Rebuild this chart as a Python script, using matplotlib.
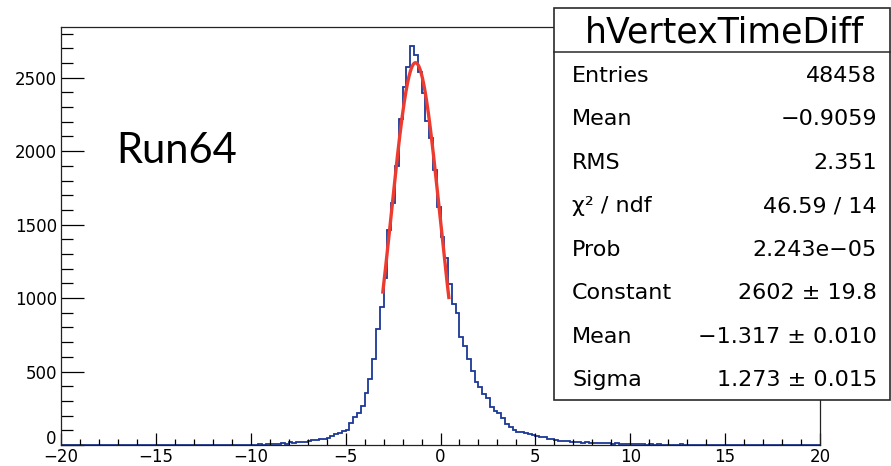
import numpy as np
import matplotlib
matplotlib.use("Agg")
import matplotlib.pyplot as plt
import matplotlib.transforms as mtransforms
from matplotlib.patches import Rectangle
from matplotlib.lines import Line2D
from matplotlib.ticker import MultipleLocator

# ---------------- data ----------------
x_min, x_max, n_bins = -20.0, 20.0, 200

counts_left_tail = [0, 0, 0, 0, 0, 0, 0, 0, 2,
                    0, 0, 0, 0, 0, 0, 0, 0, 0, 0, 0, 0, 0, 0, 0, 0, 0, 0,
                    1, 0, 2, 1,
                    0, 0, 0, 0, 0, 0,
                    1, 1, 0, 2, 2, 3, 2, 2, 0, 2, 3, 1, 3, 2, 3, 4, 3, 4, 5, 4]
counts_left_core = [5, 16, 6, 22, 16, 20, 22, 22, 30, 34, 34, 38, 42, 45, 61,
                    73, 79, 93, 100, 148, 193, 216, 266, 356, 447, 584, 788, 940,
                    1135, 1460, 1650, 1900, 2220, 2440, 2572, 2718, 2657, 2540,
                    2396, 2203, 2089, 1873, 1623]
counts_right_core = [1419, 1272, 1097, 960, 897, 738, 674, 584, 506, 431,
                     393, 347, 318, 261, 234, 220, 182, 143, 120, 102,
                     90, 86, 80, 78, 68, 62, 57, 52, 41, 38,
                     32, 29, 28, 25, 23, 22, 21, 16, 18, 16,
                     14, 17, 12, 11, 14, 10, 12, 8, 7, 9]
counts_right_tail = [5, 4, 5, 4, 3, 4, 3, 4, 3, 3,
                     3, 2, 3, 4, 2, 3, 2, 2, 3, 2,
                     2, 1, 1, 0, 0, 1, 1, 1, 0, 0,
                     0, 0, 0, 1, 1, 1, 1, 0, 0, 0,
                     0, 0, 0, 0, 0, 0, 0, 0, 0, 0]
counts = counts_left_tail + counts_left_core + counts_right_core + counts_right_tail

fit_constant = 2602.0
fit_mean = -1.317
fit_sigma = 1.273
fit_range = (-3.05, 0.45)

hist_title = "hVertexTimeDiff"
stats_labels = ["Entries", "Mean", "RMS", "\u03c7\u00b2 / ndf", "Prob",
                "Constant", "Mean", "Sigma"]
stats_values = ["48458", "\u22120.9059", "2.351", "46.59 / 14", "2.243e\u221205",
                "2602 \u00b1 19.8", "\u22121.317 \u00b1 0.010", "1.273 \u00b1 0.015"]
run_label = "Run64"

x_ticks = [-20, -15, -10, -5, 0, 5, 10, 15, 20]
y_ticks = [0, 500, 1000, 1500, 2000, 2500]

# ---------------- figure ----------------
W, H = 891, 466
fig = plt.figure(figsize=(W / 100, H / 100), dpi=100)
fig.patch.set_facecolor("white")

def fx(px):
    return px / W

def fy(py):
    return 1 - py / H

ax = fig.add_axes([fx(61), fy(445), (820 - 61) / W, (445 - 27) / H])

edges = np.linspace(x_min, x_max, n_bins + 1)
ax.stairs(counts, edges, color="#1b3896", lw=1.3, baseline=0)

xf = np.linspace(fit_range[0], fit_range[1], 200)
yf = fit_constant * np.exp(-0.5 * ((xf - fit_mean) / fit_sigma) ** 2)
ax.plot(xf, yf, color="#ee3b30", lw=2.4, solid_capstyle="butt")

ax.set_xlim(x_min, x_max)
ax.set_ylim(0, 2845)
ax.set_xticks(x_ticks)
ax.set_yticks(y_ticks)
ax.xaxis.set_minor_locator(MultipleLocator(1))
ax.yaxis.set_minor_locator(MultipleLocator(100))
ax.tick_params(axis="both", which="both", direction="in", top=False, right=False,
               color="black", width=0.9)
ax.tick_params(axis="y", which="major", length=16.5, pad=3, labelsize=12)
ax.tick_params(axis="y", which="minor", length=8.6)
ax.tick_params(axis="x", which="major", length=8.8, pad=2, labelsize=12)
ax.tick_params(axis="x", which="minor", length=4.5)
for s in ax.spines.values():
    s.set_color("#222222")
    s.set_linewidth(0.9)

# lift the y "0" label slightly so it sits just above the "-20" label
fig.canvas.draw()
ylabels = ax.get_yticklabels()
lift = mtransforms.ScaledTranslation(0, 6 / 100, fig.dpi_scale_trans)
ylabels[0].set_transform(ylabels[0].get_transform() + lift)
ylabels[0].set_va("center")

# Run label
fig.text(fx(116), fy(163), run_label, fontsize=30, family=["Lato", "DejaVu Sans"],
         ha="left", va="baseline", color="black")

# ---------------- stats box ----------------
bx0, by0, bx1, by1 = 554, 8, 889.5, 400
fig.add_artist(Rectangle((fx(bx0), fy(by1)), fx(bx1) - fx(bx0), fy(by0) - fy(by1),
                         transform=fig.transFigure, facecolor="white",
                         edgecolor="#2a2a2a", lw=1.2, zorder=10))
fig.add_artist(Line2D([fx(bx0), fx(bx1)], [fy(52), fy(52)], transform=fig.transFigure,
                      color="#2a2a2a", lw=1.1, zorder=11))
fig.text(fx(725), fy(42.7), hist_title, fontsize=25, ha="center", va="baseline",
         zorder=12, color="black")
row_base0, row_step = 81.7, 43.5
for i, (lab, val) in enumerate(zip(stats_labels, stats_values)):
    yb = row_base0 + i * row_step
    fig.text(fx(572), fy(yb), lab, fontsize=16, ha="left", va="baseline", zorder=12)
    fig.text(fx(877), fy(yb), val, fontsize=16, ha="right", va="baseline", zorder=12)

fig.savefig("out.png", dpi=100, facecolor="white")
